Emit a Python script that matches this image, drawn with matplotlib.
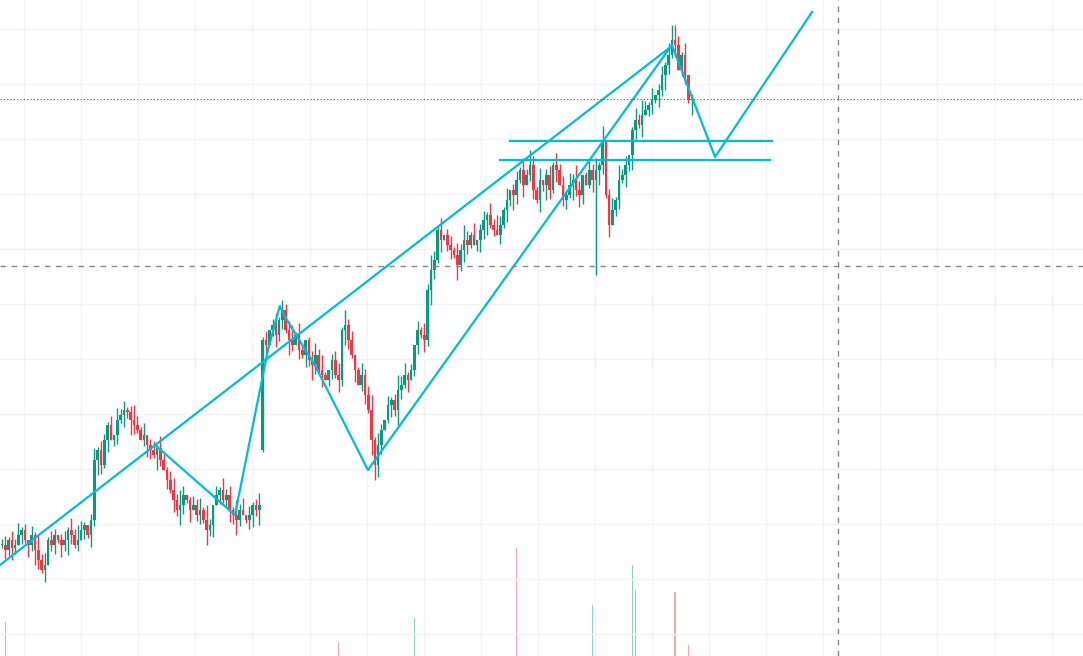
import matplotlib
matplotlib.use("Agg")
import matplotlib.pyplot as plt
import numpy as np

closes = [111,106,116,108,111,121,
          126,116,111,121,106,96,86,91,
          116,111,121,116,111,116,126,121,111,116,126,131,121,136,
          196,206,191,216,231,216,221,236,
          241,246,244,236,231,226,216,221,211,206,201,208,
          196,186,176,166,156,
          146,151,161,156,146,151,141,146,136,126,131,151,161,
          166,156,161,146,141,136,146,141,136,141,151,146,
          151,
          316,
          311,326,331,321,336,346,326,316,
          311,321,306,301,316,296,291,301,286,
          281,276,286,296,281,276,
          326,331,316,301,286,
          271,281,261,246,216,191,
          211,226,236,251,256,246,
          266,271,281,276,286,311,326,
          321,316,
          366,386,396,
          426,416,421,411,406,401,
          391,406,416,411,421,411,
          416,426,436,441,431,426,
          421,431,446,456,466,461,
          476,486,471,481,491,466,
          456,476,471,481,466,491,
          486,471,456,461,471,476,
          466,461,481,471,486,476,
          486,
          491,516,461,431,
          446,456,476,481,491,501,
          526,536,531,541,546,551,
          556,561,566,581,591,601,
          616,611,586,601,581,556,
          556]
first_open = 111
gap_opens = {79: 206}
wick_up = "2313241203152413202314253102413213042312531402314213425301324152031423152403124130241323514201342510234152301423514203125341203142531402314253140231425314023142531402314231425301324130241523014253140231425314023142"
wick_dn = "1324203142531402314253120314253140231425310243152031425314023152403124352013425130242315203142531402314253140231524301425314023142531402315243102435120314253140231425314023152430142531402314253140231425314023152"
special_lows = {79: 204, 180: 381, 113: 176}
special_highs = {203: 631, 85: 356, 182: 530}

vol_idx = [1, 102, 125, 156, 179, 191, 192, 204, 208]
vol_val = [34, 14, 38, 108, 51, 91, 66, 64, 11]
vol_up = [False, False, True, False, True, True, True, False, False]

zigzag_i = [46.4, 70.6, 80.6, 84.2, 85.6, 94.8, 110.9, 203.0, 216.1, 245.5]
zigzag_p = [211, 141, 306, 350, 340, 291, 186, 611, 499, 644]
trend_i = [-0.6, 203.0]
trend_p = [91, 610]
hlines_p = [515, 496]
hlines_i = [(153.9, 233.3), (150.9, 232.7)]
cross_i, cross_p = 253.3, 390
last_p = 557

GREEN, RED, CYAN = "#089981", "#f23645", "#00bcd4"

n = len(closes)
c = np.array(closes, float)
o = np.concatenate([[first_open], c[:-1]])
for k, v in gap_opens.items():
    o[k] = v
wu = np.array([int(ch) for ch in wick_up[:n]]) * 3
wd = np.array([int(ch) for ch in wick_dn[:n]]) * 3
h = np.maximum(o, c) + wu
l = np.minimum(o, c) - wd
for k, v in special_lows.items():
    l[k] = v
for k, v in special_highs.items():
    h[k] = v

fig = plt.figure(figsize=(10.83, 6.56), dpi=100)
ax = fig.add_axes([0, 0, 1, 1])
ax.set_xlim(-0.6, 327.6)
ax.set_ylim(0, 656)
for s in ax.spines.values():
    s.set_visible(False)
ax.set_xticks(np.arange(6.7, 330, 17.3))
ax.set_yticks(np.arange(22, 656, 55))
ax.grid(True, color="#f3f3f5", lw=1)
ax.tick_params(length=0, labelbottom=False, labelleft=False)

x = np.arange(n)
for i, v, up in zip(vol_idx, vol_val, vol_up):
    ax.bar(i, v, width=0.45, bottom=0, color=(GREEN if up else RED), alpha=0.45, zorder=1)

cols = [GREEN if cc >= oo else RED for oo, cc in zip(o, c)]
ax.vlines(x, l, h, colors=cols, lw=1, zorder=2)
ax.bar(x, np.maximum(np.abs(c - o), 1.5), bottom=np.minimum(o, c), width=0.8,
       color=cols, linewidth=0, zorder=3)

ax.plot(trend_i, trend_p, color=CYAN, lw=1.6, zorder=4)
ax.plot(zigzag_i, zigzag_p, color=CYAN, lw=1.6, zorder=4)
for p, (a, b) in zip(hlines_p, hlines_i):
    ax.plot([a, b], [p, p], color=CYAN, lw=1.6, zorder=4)

ax.axhline(cross_p, color="#888888", lw=1, ls=(0, (4, 4)), zorder=5)
ax.axvline(cross_i, color="#888888", lw=1, ls=(0, (4, 4)), zorder=5)
ax.axhline(last_p, color="#555555", lw=0.8, ls=(0, (1, 2)), zorder=5)

fig.savefig("out.png", dpi=100)
